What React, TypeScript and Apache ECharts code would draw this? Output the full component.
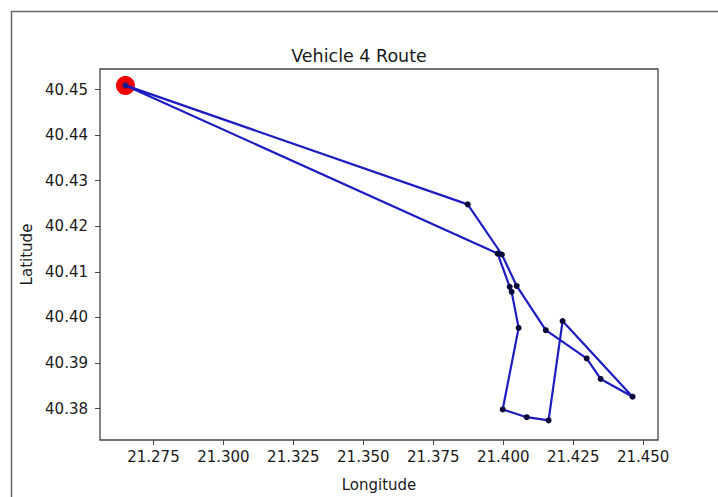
import React, { useEffect, useRef } from "react";
import * as echarts from "echarts";

// Route stops in visiting order (depot first and last)
const stopNames = ["Depot", "S1", "S2", "S3", "S4", "S5", "S6", "S7", "S8", "S9", "S10", "S11", "S12", "S13", "S14", "S15", "Depot"];
const longitudes = [21.265, 21.3873, 21.3995, 21.4048, 21.4152, 21.4298, 21.4348, 21.4462, 21.4212, 21.4162, 21.4084, 21.3998, 21.4055, 21.403, 21.4023, 21.398, 21.265];
const latitudes = [40.4509, 40.4248, 40.4138, 40.4069, 40.3972, 40.391, 40.3865, 40.3826, 40.3992, 40.3774, 40.3781, 40.3798, 40.3977, 40.4056, 40.4067, 40.414, 40.4509];
const depot = [21.265, 40.4509];

const xTicks = [21.275, 21.3, 21.325, 21.35, 21.375, 21.4, 21.425, 21.45];
const yTicks = [40.38, 40.39, 40.4, 40.41, 40.42, 40.43, 40.44, 40.45];

const FONT = "DejaVu Sans";

export default function App() {
  const ref = useRef<HTMLDivElement>(null);
  useEffect(() => {
    if (!ref.current) return;
    const chart = echarts.init(ref.current, null, { renderer: "svg" });
    const route = longitudes.map((lon, i) => [lon, latitudes[i]]);
    const stops = route.slice(1, route.length - 1);
    chart.setOption({
      animation: false,
      backgroundColor: "#ffffff",
      title: {
        text: "Vehicle 4 Route",
        left: "center",
        top: 42,
        textStyle: { fontFamily: FONT, fontSize: 17.5, fontWeight: "normal", color: "#1a1a1a" },
      },
      graphic: [
        {
          type: "rect",
          left: 9,
          top: 9,
          shape: { width: 760, height: 560 },
          style: { fill: "none", stroke: "#666", lineWidth: 1.5 },
          silent: true,
        },
      ],
      grid: {
        left: 100,
        top: 69,
        width: 558,
        height: 378,
        show: true,
        borderColor: "#444",
        borderWidth: 1.3,
        backgroundColor: "transparent",
      },
      xAxis: {
        type: "value",
        min: 21.2559,
        max: 21.4553,
        name: "Longitude",
        nameLocation: "middle",
        nameGap: 37,
        nameTextStyle: { fontFamily: FONT, fontSize: 15, color: "#1a1a1a" },
        axisLine: { show: false },
        splitLine: { show: false },
        axisTick: { show: true, length: 5, lineStyle: { color: "#444" }, customValues: xTicks },
        axisLabel: {
          fontFamily: FONT,
          fontSize: 15,
          color: "#1a1a1a",
          margin: 9,
          customValues: xTicks,
          formatter: (v: number) => v.toFixed(3),
        },
      },
      yAxis: {
        type: "value",
        min: 40.3731,
        max: 40.4545,
        name: "Latitude",
        nameLocation: "middle",
        nameGap: 65,
        nameTextStyle: { fontFamily: FONT, fontSize: 15, color: "#1a1a1a" },
        axisLine: { show: false },
        splitLine: { show: false },
        axisTick: { show: true, length: 5, lineStyle: { color: "#444" }, customValues: yTicks },
        axisLabel: {
          fontFamily: FONT,
          fontSize: 15,
          color: "#1a1a1a",
          margin: 12,
          customValues: yTicks,
          formatter: (v: number) => v.toFixed(2),
        },
      },
      series: [
        {
          type: "scatter",
          name: "Depot",
          data: [depot],
          symbol: "circle",
          symbolSize: 19,
          itemStyle: { color: "#ee0000", opacity: 1 },
          z: 1,
        },
        {
          type: "line",
          name: "Route",
          data: route,
          showSymbol: false,
          lineStyle: { color: "#1c1cc0", width: 2.2 },
          z: 2,
        },
        {
          type: "scatter",
          name: "Stops",
          data: stops,
          symbol: "circle",
          symbolSize: 6,
          itemStyle: { color: "#0a0a3a", opacity: 1 },
          z: 3,
        },
        {
          type: "scatter",
          name: "DepotCenter",
          data: [depot],
          symbol: "circle",
          symbolSize: 6,
          itemStyle: { color: "#1a1a8a", opacity: 1 },
          z: 4,
        },
      ],
    });
    return () => chart.dispose();
  }, []);
  return (
    <div
      ref={ref}
      style={{ position: "fixed", left: 0, top: 0, width: 718, height: 497, background: "#fff" }}
    />
  );
}
